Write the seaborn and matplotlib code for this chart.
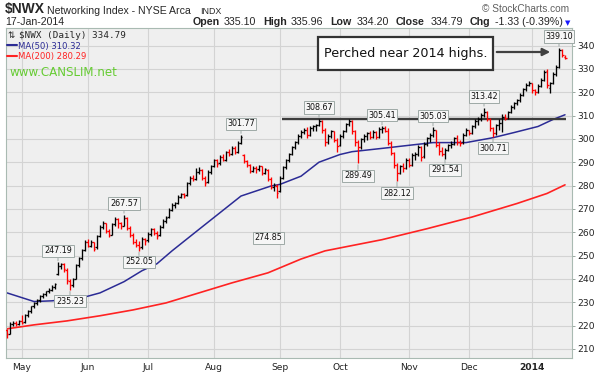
import numpy as np
import matplotlib
matplotlib.use("Agg")
import matplotlib.pyplot as plt
import seaborn as sns
from matplotlib.patches import Rectangle

W, H = 597, 376

# ---------------- data ----------------
# trading-day index 0 = 24-Apr-2013 ... 186 = 17-Jan-2014
prev_close0 = 217.5
opens = [
    # Apr 24-30
    218.0, 216.5, 220.8, 221.3, 220.6,
    # May
    222.0, 221.5, 224.6, 226.1, 228.2, 229.6, 231.0, 232.6, 233.5, 234.6, 235.4,
    236.6, 242.0, 245.6, 246.3, 244.0, 239.3, 237.3, 240.0, 245.8, 248.8, 252.3,
    # Jun
    255.6, 254.2, 255.8, 253.5, 258.2, 262.3, 263.8, 260.4, 259.0, 263.4, 265.5,
    263.8, 262.8, 266.3, 262.0, 258.8, 256.0, 254.6, 253.5, 257.0,
    # Jul
    256.5, 259.3, 261.2, 259.8, 258.8, 262.4, 264.8, 266.5, 269.6, 271.8, 272.6,
    275.3, 276.4, 275.8, 280.9, 283.4, 282.8, 285.8, 286.6, 283.4, 281.5, 285.8,
    # Aug
    288.4, 290.9, 289.5, 292.4, 291.0, 294.2, 293.4, 296.0, 294.5, 298.4, 293.0,
    290.4, 288.9, 286.3, 287.6, 287.0, 288.2, 285.3, 286.5, 282.8, 279.3, 280.0,
    # Sep
    277.5, 283.3, 287.8, 290.8, 293.5, 296.3, 298.6, 301.2, 303.0, 303.6, 301.8,
    304.8, 305.4, 306.0, 307.8, 303.8, 298.5, 301.3, 303.2, 299.4,
    # Oct
    297.2, 301.4, 303.3, 306.2, 307.5, 303.4, 298.6, 296.4, 299.8, 301.2, 302.4,
    300.8, 303.0, 301.0, 304.2, 304.8, 303.5, 298.4, 294.0, 288.6, 285.5, 288.2, 287.4,
    # Nov
    291.0, 289.0, 293.0, 293.5, 296.5, 292.5, 297.8, 300.2, 301.6, 303.6, 297.5,
    294.8, 293.6, 295.3, 297.4, 297.9, 300.4, 298.8, 298.5, 301.8,
    # Dec
    303.7, 302.7, 305.3, 307.8, 308.6, 310.2, 311.4, 308.3, 304.6, 302.3, 305.8,
    307.0, 309.5, 309.0, 311.5, 313.8, 315.2, 316.6, 318.8, 321.3, 323.2,
    # Jan
    323.8, 320.8, 320.2, 322.8, 325.4, 329.0, 322.0, 323.8, 327.8, 331.0, 338.2, 335.1,
]
highs = [
    218.5, 221.5, 222.0, 221.8, 222.5,
    224.5, 225.0, 226.5, 228.5, 230.0, 231.5, 233.0, 234.0, 235.0, 236.0, 237.2,
    238.2, 247.19, 247.0, 246.8, 244.5, 240.0, 240.5, 246.5, 249.5, 253.0, 256.5,
    257.0, 256.5, 256.0, 258.8, 263.0, 264.8, 264.0, 261.5, 264.0, 266.5, 266.0,
    264.5, 267.57, 266.5, 262.8, 259.5, 257.0, 256.2, 257.8, 257.5,
    260.0, 262.0, 262.0, 260.5, 263.0, 265.5, 266.8, 270.5, 272.5, 273.0, 276.0,
    277.0, 277.0, 281.5, 284.0, 284.5, 287.5, 288.0, 287.0, 284.0, 286.5, 289.0,
    291.5, 291.5, 293.0, 293.5, 295.0, 295.5, 296.8, 297.0, 299.0, 301.77, 293.5,
    291.0, 289.2, 288.5, 288.2, 288.8, 288.5, 287.6, 287.0, 283.5, 281.0, 280.5,
    284.0, 288.5, 291.5, 294.0, 297.0, 299.2, 302.0, 303.8, 304.5, 305.0, 305.5,
    306.0, 306.5, 308.67, 308.0, 304.5, 302.0, 304.0, 303.5, 300.5,
    302.0, 304.0, 307.0, 308.5, 308.0, 304.0, 299.5, 300.5, 302.0, 303.0, 303.5,
    303.8, 303.5, 305.0, 305.41, 305.3, 304.5, 299.0, 294.5, 289.5, 289.0, 289.5, 291.8,
    292.0, 293.8, 294.5, 297.5, 297.0, 298.5, 301.0, 302.5, 305.03, 304.0, 298.5,
    296.5, 296.0, 298.0, 299.0, 301.0, 301.5, 299.5, 302.5, 304.5,
    304.0, 306.0, 308.5, 309.5, 311.0, 313.42, 312.0, 309.0, 305.0, 306.5, 308.5,
    310.5, 310.5, 312.0, 314.5, 316.0, 317.2, 319.5, 322.0, 324.0, 324.8,
    324.0, 321.5, 323.5, 326.0, 329.5, 330.0, 324.5, 328.5, 331.5, 339.10, 338.5, 335.96,
]
lows = [
    214.5, 216.3, 219.8, 219.8, 220.2,
    220.8, 221.3, 223.8, 225.4, 227.5, 228.8, 230.2, 231.8, 232.8, 233.9, 234.8,
    235.7, 241.5, 244.2, 243.0, 238.0, 235.23, 236.5, 239.8, 245.0, 248.0, 251.8,
    253.5, 253.6, 252.0, 253.0, 257.8, 261.5, 259.5, 257.8, 258.6, 262.8, 262.0,
    261.5, 262.5, 261.0, 258.0, 255.0, 253.5, 252.05, 253.0, 254.5,
    256.0, 258.5, 258.8, 257.0, 258.3, 261.8, 264.0, 266.0, 269.0, 270.5, 272.0,
    274.5, 274.8, 275.5, 280.2, 281.8, 282.5, 285.0, 282.5, 280.0, 281.0, 285.0,
    287.8, 288.0, 289.0, 290.5, 290.5, 292.8, 293.0, 293.5, 294.0, 297.8, 289.5,
    288.0, 285.5, 285.8, 285.2, 286.3, 284.5, 284.8, 282.0, 278.5, 277.8, 274.85,
    277.2, 282.8, 287.2, 290.2, 293.0, 295.8, 298.0, 300.5, 302.0, 300.5, 301.2,
    303.2, 303.5, 305.5, 302.5, 296.8, 298.0, 300.5, 298.5, 294.2,
    296.8, 300.2, 302.8, 305.5, 302.0, 297.0, 289.49, 295.8, 298.5, 299.5, 300.0,
    300.2, 299.8, 300.5, 302.5, 302.8, 297.5, 293.0, 287.5, 282.12, 285.0, 285.8, 287.0,
    288.0, 288.5, 291.0, 292.8, 290.5, 292.0, 297.0, 298.5, 301.0, 296.5, 293.0,
    292.5, 291.54, 294.8, 296.0, 297.3, 297.5, 297.0, 298.0, 301.2,
    301.5, 302.2, 304.8, 306.0, 307.5, 309.5, 307.5, 303.5, 300.71, 301.8, 304.0,
    302.8, 308.0, 308.5, 311.0, 313.0, 314.5, 316.0, 318.2, 320.5, 322.5,
    319.5, 319.0, 319.8, 322.3, 325.0, 322.0, 319.5, 323.5, 327.0, 330.5, 335.0, 334.20,
]
closes = [
    216.3, 220.8, 221.3, 220.6, 222.0,
    221.2, 224.6, 226.1, 228.2, 229.6, 231.0, 232.6, 233.5, 234.6, 235.4, 236.6,
    237.6, 245.6, 246.3, 244.2, 239.5, 237.3, 239.8, 245.8, 248.8, 252.3, 255.6,
    254.2, 255.8, 253.0, 258.2, 262.3, 263.8, 260.4, 258.8, 263.4, 265.5, 263.8,
    262.6, 266.3, 262.0, 258.8, 256.0, 254.6, 253.2, 257.0, 256.2,
    259.3, 261.2, 259.8, 258.5, 262.4, 264.8, 265.9, 269.6, 271.8, 272.4, 275.3,
    276.4, 275.6, 280.9, 283.4, 282.6, 285.8, 286.6, 283.4, 281.2, 285.8, 288.4,
    290.9, 289.2, 292.4, 291.0, 294.2, 293.4, 296.0, 294.3, 298.4, 300.6, 290.4,
    288.9, 286.3, 287.6, 287.0, 288.2, 285.3, 286.9, 282.8, 279.3, 280.2, 277.0,
    283.3, 287.8, 290.8, 293.5, 296.3, 298.6, 301.2, 303.0, 303.6, 301.6, 304.8,
    305.4, 305.9, 307.8, 303.8, 298.5, 301.3, 303.2, 299.4, 297.0,
    301.4, 303.3, 306.2, 307.5, 303.4, 298.6, 296.4, 299.8, 301.2, 302.4, 300.8,
    303.0, 300.8, 304.2, 304.8, 303.5, 298.4, 294.0, 288.6, 285.5, 288.2, 287.4, 291.0,
    289.0, 293.0, 293.5, 296.5, 292.2, 297.8, 300.2, 301.6, 303.6, 297.5, 294.8,
    293.6, 295.3, 297.4, 297.9, 300.4, 298.8, 298.1, 301.8, 303.7,
    302.5, 305.3, 307.8, 308.6, 310.2, 311.4, 308.3, 304.6, 302.3, 305.8, 307.0,
    309.5, 309.0, 311.5, 313.8, 315.2, 316.6, 318.8, 321.3, 323.2, 323.8,
    320.8, 320.2, 322.8, 325.4, 328.8, 323.0, 323.8, 327.8, 330.6, 338.2, 336.12, 334.79,
]

# moving averages read at sample days
ma50_idx = [0, 9, 15, 25, 31, 39, 45, 50, 55, 63, 78, 88, 91, 98, 104, 111, 115,
            127, 131, 142, 153, 162, 169, 177, 182, 186]
ma50_val = [234.0, 230.3, 230.6, 231.9, 234.0, 238.8, 243.5, 246.5, 252.0, 260.2,
            275.5, 279.8, 280.5, 284.0, 290.0, 293.3, 294.5, 296.2, 296.8, 298.4,
            298.4, 300.5, 302.7, 305.3, 308.3, 310.32]
ma200_idx = [0, 9, 20, 31, 42, 53, 64, 75, 87, 98, 106, 125, 140, 155, 170, 180, 186]
ma200_val = [218.6, 220.3, 222.0, 224.2, 226.7, 229.7, 234.0, 238.3, 242.6, 248.5,
             252.0, 256.8, 261.5, 266.5, 272.3, 276.6, 280.29]

month_idx = [5, 27, 47, 69, 91, 111, 134, 154, 175]
month_lbl = ["May", "Jun", "Jul", "Aug", "Sep", "Oct", "Nov", "Dec", "2014"]

resist_level = 308.5
resist_span = (91.7, 186.3)

# (day index, value, direction, label offset in points)
peak_labels = [(17, 247.19, 1, 8), (21, 235.23, -1, 8), (39, 267.57, 1, 8), (44, 252.05, -1, 8),
               (78, 301.77, 1, 8), (90, 274.85, -1, 29), (104, 308.67, 1, 8), (117, 289.49, -1, 9),
               (125, 305.41, 1, 8), (130, 282.12, -1, 9), (142, 305.03, 1, 8), (146, 291.54, -1, 8),
               (159, 313.42, 1, 8), (162, 300.71, -1, 8), (184, 339.10, 1, 8)]

# ---------------- drawing ----------------
sns.set_style("white")
plt.rcParams['font.family'] = ['DejaVu Sans']

o = np.array(opens); h = np.array(highs); l = np.array(lows); c = np.array(closes)
idx = np.arange(len(c))
prev = np.concatenate([[prev_close0], c[:-1]])
cols = np.where(c < prev, '#ff0000', '#000000')

fig = plt.figure(figsize=(W / 100, H / 100), dpi=100)
ax = fig.add_axes([6 / W, (H - 358) / H, (572 - 6) / W, (358 - 28) / H])
ax.set_facecolor('#efefef')
ax.set_xlim(-0.333, 188.333)
ax.set_ylim(206.1, 347.5)

ax.set_xticks(month_idx)
ax.set_xticklabels(month_lbl, fontsize=6.6, color='#222222')
ax.get_xticklabels()[-1].set_fontweight('bold')
ax.set_yticks(range(210, 341, 10))
ax.yaxis.tick_right()
ax.tick_params(axis='y', labelsize=6.6, labelcolor='#222222', length=2.5, width=0.6,
               color='#8a9a92', pad=1.5, right=True, left=False)
ax.tick_params(axis='x', length=0, pad=3.5)
ax.grid(True, color='#d3d3d3', lw=0.8)
ax.set_axisbelow(True)
for s in ax.spines.values():
    s.set_color('#a9bab2'); s.set_linewidth(0.8)

sns.lineplot(x=ma200_idx, y=ma200_val, ax=ax, color='#ff2222', lw=1.2, zorder=2)
sns.lineplot(x=ma50_idx, y=ma50_val, ax=ax, color='#2b2b95', lw=1.1, zorder=2)

ax.hlines(resist_level, *resist_span, color='#3c3c3c', lw=1.7, zorder=2.5)

ax.vlines(idx, l, h, colors=cols, lw=0.95, zorder=3)
ax.hlines(o, idx - 0.5, idx, colors=cols, lw=0.95, zorder=3)
ax.hlines(c, idx, idx + 0.5, colors=cols, lw=0.95, zorder=3)

for i, v, d, off in peak_labels:
    arrow = dict(arrowstyle='-', color='#9ea9a6', lw=0.7, shrinkA=0, shrinkB=1) if off <= 9 else None
    dx = -6 if off > 9 else 0
    ax.annotate(f"{v:.2f}", xy=(i, v), xytext=(dx, off * d), textcoords='offset points',
                ha='center', va='center', fontsize=5.8, color='#111111',
                bbox=dict(boxstyle='square,pad=0.2', fc='#f6f6f6', ec='#9ea9a6', lw=0.7),
                arrowprops=arrow, zorder=5)

def ft(x, y, s, **kw):
    fig.text(x / W, 1 - y / H, s, **kw)

hf = ['Liberation Sans', 'DejaVu Sans']
ft(5, 13.5, "$NWX", fontsize=10, fontweight='bold', family=hf, va='baseline')
ft(47, 13.5, "Networking Index - NYSE Arca", fontsize=7.6, family=hf, va='baseline')
ft(200, 13.5, "INDX", fontsize=6.4, family=hf, va='baseline')
ft(5, 25, "17-Jan-2014", fontsize=7.6, family=hf, va='baseline')
ft(482, 12, "\u00a9 StockCharts.com", fontsize=7.3, family=hf, color='#606060', va='baseline')
parts = [(193, "Open", True), (224, "335.10", False), (263, "High", True),
         (291, "335.96", False), (330, "Low", True), (357, "334.20", False),
         (396, "Close", True), (431, "334.79", False), (470, "Chg", True),
         (495, "-1.33 (-0.39%)", False)]
for x, s, b in parts:
    ft(x, 25, s, fontsize=7.7, family=hf, fontweight='bold' if b else 'normal', va='baseline')
ft(567.5, 25, "\u25bc", fontsize=5, color='#1a1aff', ha='center', va='baseline')

# legend text
ft(7, 37.5, "\u21c5", fontsize=6.2, va='baseline')
ft(19, 37.5, "$NWX (Daily) 334.79", fontsize=6.7, family=['DejaVu Sans Mono'], va='baseline')
fig.add_artist(plt.Line2D([7 / W, 17 / W], [1 - 45 / H, 1 - 45 / H], color='#2b2b95', lw=1.5))
ft(18, 48.5, "MA(50) 310.32", fontsize=6.1, color='#2b2b95', va='baseline')
fig.add_artist(plt.Line2D([7 / W, 17 / W], [1 - 56 / H, 1 - 56 / H], color='#ff2222', lw=1.5))
ft(18, 59.5, "MA(200) 280.29", fontsize=6.1, color='#ff2222', va='baseline')

ft(10, 73, "www.CANSLIM.net", fontsize=8.6, color='#66cc33', va='center')

# callout box
fig.add_artist(Rectangle((318 / W, 1 - 70 / H), (493 - 318) / W, 33 / H,
                         transform=fig.transFigure, fc='white', ec='#333333', lw=1.6, zorder=6))
ft(405.5, 53.5, "Perched near 2014 highs.", fontsize=9.2, ha='center', va='center',
   color='#111111', zorder=7)
ax.annotate('', xy=(553, H - 52), xytext=(494, H - 52), xycoords='figure pixels',
            textcoords='figure pixels',
            arrowprops=dict(arrowstyle='-|>', color='#404040', lw=1.6, mutation_scale=11),
            zorder=7)

fig.savefig("out.png", dpi=100)
